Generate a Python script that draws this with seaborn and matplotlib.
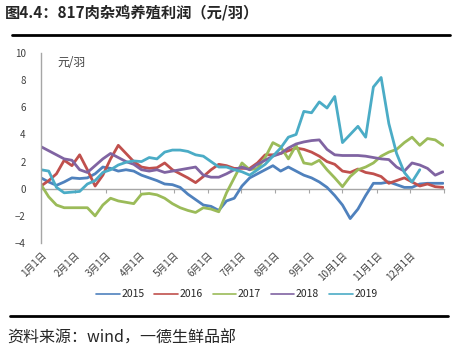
import pandas as pd
import seaborn as sns
import matplotlib.pyplot as plt
import numpy as np

# weekly profit per bird, yuan
weeks = pd.date_range('2019-01-01', periods=53, freq='7D')
years = ['2015', '2016', '2017', '2018', '2019']

p2015 = [0.8, 0.5, 0.25, 0.5, 0.8, 0.75, 0.8, 1.1, 1.6, 1.5, 1.3, 1.4, 1.3, 1.0,
         0.8, 0.6, 0.35, 0.3, 0.1, -0.4, -0.8, -1.2, -1.3, -1.6, -0.9, -0.7, 0.2,
         0.8, 1.1, 1.4, 1.7, 1.3, 1.6, 1.3, 1.0, 0.8, 0.5, 0.1, -0.5, -1.2, -2.2,
         -1.5, -0.5, 0.4, 0.4, 0.5, 0.3, 0.1, 0.1, 0.35, 0.4, 0.4, 0.4]
p2016 = [0.2, 0.6, 1.1, 2.1, 1.7, 2.5, 1.4, 0.2, 1.0, 2.2, 3.2, 2.6, 2.0, 1.6,
         1.5, 1.55, 1.9, 1.4, 1.1, 0.8, 0.45, 0.9, 1.4, 1.8, 1.7, 1.5, 1.5, 1.5,
         1.9, 2.5, 2.5, 2.6, 2.8, 3.0, 2.9, 2.7, 2.4, 2.0, 1.8, 1.3, 1.2, 1.45,
         1.2, 1.1, 0.9, 0.4, 0.6, 0.8, 0.5, 0.2, 0.35, 0.15, 0.1]
p2017 = [0.3, -0.6, -1.2, -1.4, -1.4, -1.4, -1.4, -2.0, -1.2, -0.7, -0.9, -1.0,
         -1.1, -0.4, -0.35, -0.45, -0.7, -1.1, -1.4, -1.6, -1.75, -1.4, -1.5,
         -1.7, -0.3, 0.8, 1.9, 1.4, 1.5, 2.3, 3.4, 3.1, 2.2, 3.2, 1.9, 1.8, 2.1,
         1.4, 0.8, 0.15, 0.9, 1.4, 1.6, 1.9, 2.4, 2.7, 2.9, 3.4, 3.8, 3.2, 3.7,
         3.6, 3.2]
p2018 = [3.1, 2.8, 2.5, 2.2, 2.1, 1.4, 1.2, 1.7, 2.2, 2.6, 2.3, 2.0, 1.8, 1.4,
         1.3, 1.4, 1.2, 1.3, 1.4, 1.5, 1.6, 1.0, 0.85, 0.85, 1.1, 1.4, 1.6, 1.4,
         1.8, 2.1, 2.4, 2.6, 3.0, 3.3, 3.45, 3.55, 3.6, 2.9, 2.5, 2.45, 2.45,
         2.45, 2.4, 2.3, 2.2, 2.15, 1.6, 1.3, 1.9, 1.75, 1.5, 1.0, 1.25]
p2019 = [1.4, 1.3, 0.1, -0.3, -0.25, -0.2, 0.35, 0.6, 1.2, 1.4, 1.75, 1.95, 2.05,
         2.0, 2.3, 2.2, 2.7, 2.85, 2.85, 2.75, 2.5, 2.4, 2.0, 1.6, 1.6, 1.4, 1.25,
         1.0, 1.4, 1.8, 2.4, 3.0, 3.8, 4.0, 5.7, 5.6, 6.4, 5.95, 6.8, 3.4, 4.0,
         4.6, 3.8, 7.5, 8.2, 4.8, 2.6, 1.2, 0.5, 1.4, np.nan, np.nan, np.nan]

colors = ['#4F81BD', '#C0504D', '#9BBB59', '#8064A2', '#4BACC6']

df = pd.DataFrame({'date': np.tile(weeks, 5),
                   'year': np.repeat(years, 53),
                   'profit': p2015 + p2016 + p2017 + p2018 + p2019})

sns.set_style('white')
plt.rcParams['font.family'] = ['Noto Sans CJK SC', 'DejaVu Sans']

fig = plt.figure(figsize=(4.57, 3.55), dpi=100)
ax = fig.add_axes([0.0897, 0.3155, 0.882, 0.535])

sns.lineplot(data=df, x='date', y='profit', hue='year', palette=colors,
             linewidth=2.0, ax=ax)

ax.set_ylim(-4, 10)
ax.set_yticks(np.arange(-4, 11, 2))
ax.set_xlim(pd.Timestamp('2019-01-01'), pd.Timestamp('2020-01-01'))
months = pd.date_range('2019-01-01', '2019-12-01', freq='MS')
ax.set_xticks(months)
ax.set_xticklabels([f'{m.month}月1日' for m in months], rotation=45,
                   ha='right', rotation_mode='anchor', fontsize=7, color='#404040')
ax.tick_params(axis='x', length=0, pad=5)
ax.tick_params(axis='y', length=3, direction='out', labelsize=7,
               colors='#404040', pad=8)
ax.yaxis.set_tick_params(color='#868686')
ax.set_xlabel('')
ax.set_ylabel('')
for s in ['top', 'right', 'bottom']:
    ax.spines[s].set_visible(False)
ax.spines['left'].set_color('#A6A6A6')
ax.spines['left'].set_linewidth(1)

# horizontal axis line crossing at zero, with month ticks
sec = ax.secondary_xaxis(4 / 14)
sec.set_xticks(list(months) + [pd.Timestamp('2020-01-01')])
sec.tick_params(axis='x', length=3, direction='out', labelbottom=False,
                color='#A6A6A6')
sec.spines['bottom'].set_color('#A6A6A6')
sec.spines['bottom'].set_linewidth(1)

ax.text(0.04, 0.985, '元/羽', transform=ax.transAxes, fontsize=8.5,
        va='top', color='#404040')

leg = ax.legend(loc='center', bbox_to_anchor=(0.486, -0.27), ncol=5,
                frameon=False, fontsize=7.5, handlelength=2.3,
                columnspacing=0.9, handletextpad=0.15)
for h in leg.get_lines():
    h.set_linewidth(1.2)

fig.text(0.011, 0.965, '图4.4：817肉杂鸡养殖利润（元/羽）', fontsize=11,
         fontweight='bold', va='center')
fig.add_artist(plt.Line2D([0.026, 0.985], [0.901, 0.901], color='black', lw=2))
fig.add_artist(plt.Line2D([0.022, 0.98], [0.11, 0.11], color='black', lw=2))
fig.text(0.016, 0.048, '资料来源：wind，一德生鲜品部', fontsize=11.5, va='center')

fig.savefig('out.png', dpi=100)
